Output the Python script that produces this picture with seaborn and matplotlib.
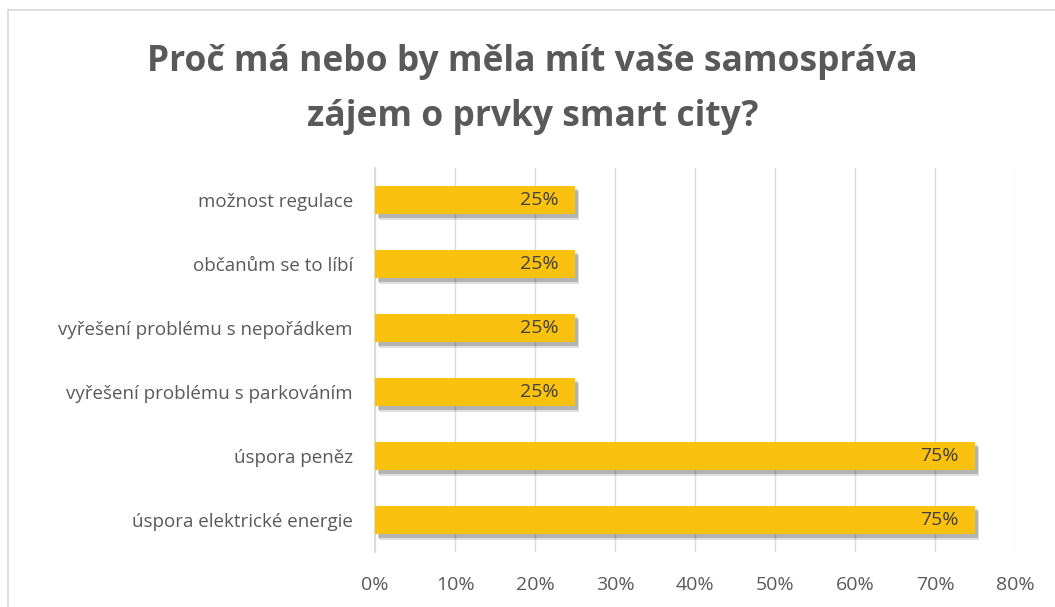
import matplotlib.pyplot as plt
import matplotlib.patheffects as pe
from matplotlib.patches import Rectangle
from matplotlib.ticker import PercentFormatter
import seaborn as sns
import pandas as pd

categories = [
    "možnost regulace",
    "občanům se to líbí",
    "vyřešení problému s nepořádkem",
    "vyřešení problému s parkováním",
    "úspora peněz",
    "úspora elektrické energie",
]
shares = [0.25, 0.25, 0.25, 0.25, 0.75, 0.75]
title = "Proč má nebo by měla mít vaše samospráva\nzájem o prvky smart city?"

df = pd.DataFrame({"kategorie": categories, "podil": shares})

sns.set_theme(style="white")
plt.rcParams['font.family'] = ['Open Sans', 'DejaVu Sans']

grey = "#595959"
fig = plt.figure(figsize=(10.55, 6.07), dpi=100)
ax = fig.add_axes([0.3555, 0.0906, 0.6066, 0.6326])

sns.barplot(data=df, x="podil", y="kategorie", color="#FAC10E", width=0.45,
            saturation=1, linewidth=0, ax=ax, zorder=3)

# Excel-like soft shadow under the bars
for bar, val in zip(ax.patches, shares):
    bar.set_path_effects([
        pe.SimplePatchShadow(offset=(3, -4), shadow_rgbFace="#000000", alpha=0.12),
        pe.SimplePatchShadow(offset=(2, -2.5), shadow_rgbFace="#000000", alpha=0.2),
        pe.Normal()])
    ax.text(bar.get_width() - 0.02, bar.get_y() + bar.get_height() / 2, f"{val:.0%}",
            ha="right", va="center", fontsize=14, color="#404040", zorder=4)

ax.set_xlim(0, 0.8)
ax.set_xticks([i / 10 for i in range(9)])
ax.xaxis.set_major_formatter(PercentFormatter(1.0, decimals=0))
ax.grid(axis="x", color="#d9d9d9", linewidth=1, zorder=0)
ax.set_axisbelow(True)
for s in ["top", "right", "bottom"]:
    ax.spines[s].set_visible(False)
ax.spines["left"].set_color("#d9d9d9")
ax.tick_params(axis="both", length=0, labelsize=13.5, colors=grey)
ax.tick_params(axis="x", labelsize=14, pad=17)
ax.tick_params(axis="y", pad=16)
ax.set_xlabel("")
ax.set_ylabel("")

fig.text(0.505, 0.852, title, ha="center", va="center", fontsize=25.5, fontweight="bold",
         color=grey, linespacing=1.7)

fig.patches.append(Rectangle((8 / 1055, -0.01), 1.02, 1 - 10 / 607 + 0.01, transform=fig.transFigure,
                             fill=False, edgecolor="#d9d9d9", linewidth=1.2))

fig.savefig("out.png", dpi=100)
